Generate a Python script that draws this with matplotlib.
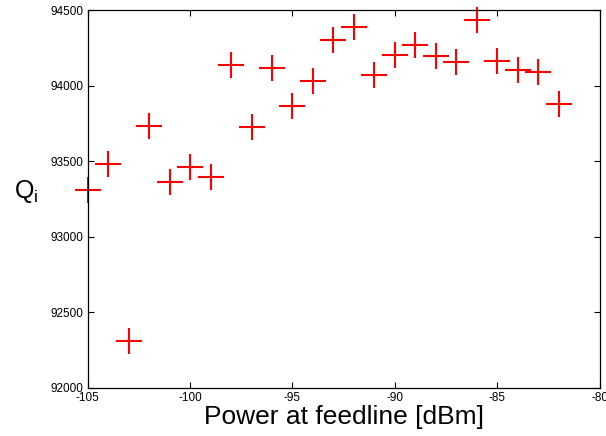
import matplotlib
matplotlib.use("Agg")
import matplotlib.pyplot as plt

plt.rcParams['font.family'] = ['Liberation Sans', 'DejaVu Sans']
plt.rcParams['mathtext.fontset'] = 'custom'
plt.rcParams['mathtext.rm'] = 'Liberation Sans'
plt.rcParams['mathtext.it'] = 'Liberation Sans'

power_dbm = [-105, -104, -103, -102, -101, -100, -99, -98, -97, -96, -95, -94,
             -93, -92, -91, -90, -89, -88, -87, -86, -85, -84, -83, -82]
qi = [93310, 93482, 92312, 93736, 93361, 93464, 93396, 94136, 93725, 94118,
      93866, 94032, 94303, 94387, 94071, 94204, 94272, 94197, 94158, 94436,
      94164, 94105, 94091, 93879]

xticks = [-105, -100, -95, -90, -85, -80]
yticks = [92000, 92500, 93000, 93500, 94000, 94500]

fig = plt.figure(figsize=(6.06, 4.36), dpi=100)
ax = fig.add_axes([0.1447, 0.1108, 0.8449, 0.8656])
ax.plot(power_dbm, qi, linestyle='none', marker='+', markersize=19,
        markeredgewidth=1.5, color='#ff0000', clip_on=False)
ax.set_xlim(-105, -80)
ax.set_ylim(92000, 94500)
ax.set_xticks(xticks)
ax.set_yticks(yticks)
ax.set_xticklabels([str(t) for t in xticks])
ax.set_yticklabels([str(t) for t in yticks])
ax.tick_params(direction='in', length=4, width=0.8, labelsize=8.5,
               top=True, right=True, pad=3)
for s in ax.spines.values():
    s.set_linewidth(0.9)
ax.set_xlabel('Power at feedline [dBm]', fontsize=19, labelpad=1)
ax.set_ylabel('Q$_{\\rm i}$', fontsize=18, rotation=0, va='center')
ax.yaxis.set_label_coords(-0.12, 0.52)
fig.savefig('out.png', dpi=100)
